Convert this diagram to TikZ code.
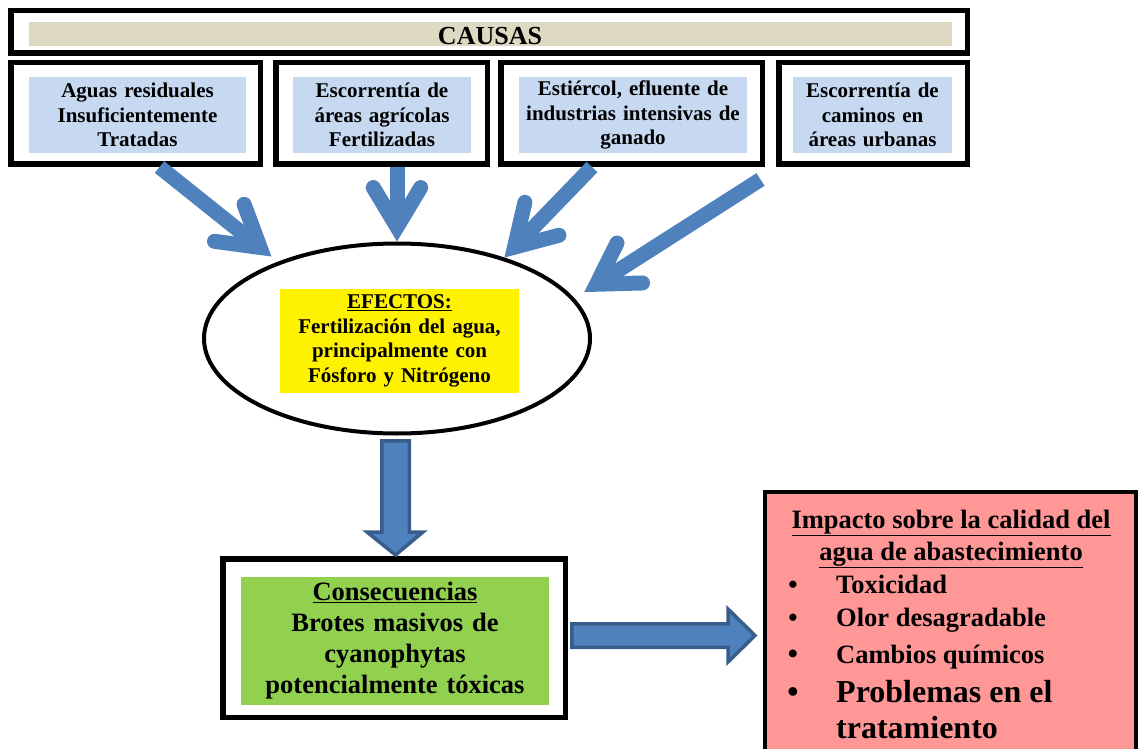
\documentclass[tikz,border=0pt]{standalone}
\usepackage{fontspec}
\setmainfont{Liberation Serif}
\usetikzlibrary{calc,shapes.geometric}

\definecolor{causeblue}{HTML}{C6D9F1}
\definecolor{causetan}{HTML}{DDD9C3}
\definecolor{arrowblue}{HTML}{4F81BD}
\definecolor{arrowedge}{HTML}{385D8A}
\definecolor{consgreen}{HTML}{92D050}
\definecolor{impactpink}{HTML}{FF9797}

\tikzset{
  frame/.style={draw, line width=5.5pt, fill=white, inner sep=0pt},
  fillbox/.style={inner sep=0pt, align=center},
  smalltext/.style={font=\fontsize{21}{24.5}\selectfont\bfseries},
  bigtext/.style={font=\fontsize{26.5}{31}\selectfont\bfseries},
  causeline/.style={draw=arrowblue, line width=15pt},
  causehead/.style={draw=arrowblue, line width=15pt, line cap=round, line join=miter, miter limit=10},
  blockarrow/.style={draw=arrowedge, fill=arrowblue, line width=3.5pt, line join=miter},
}

% thick blue arrow with an open head: start, tip
\newcommand{\causearrow}[2]{%
  \coordinate (v) at ($(#2)!14.5pt!(#1)$);
  \draw[causeline] (#1) -- (v);
  \draw[causehead] ($(v)!46pt!31:(#1)$) -- (v) -- ($(v)!46pt!-31:(#1)$);
}

\begin{document}
\begin{tikzpicture}[x=1pt, y=-1pt]
  \useasboundingbox (0,0) rectangle (1138,749);

  % causes
  \node[frame, minimum width=956.5pt, minimum height=42.5pt] (top) at (489,32) {};
  \node[fill=causetan, inner sep=0pt, minimum width=923pt, minimum height=24pt] (bar) at (490.5,34) {};
  \node[anchor=base, inner sep=0pt, font=\fontsize{26}{30}\selectfont\bfseries] (causas) at (490,45) {CAUSAS};

  \node[frame, minimum width=249.5pt, minimum height=101.5pt] (c1) at (135.5,113.5) {};
  \node[frame, minimum width=211.5pt, minimum height=101.5pt] (c2) at (381.5,113.5) {};
  \node[frame, minimum width=261.5pt, minimum height=101.5pt] (c3) at (631.5,113.5) {};
  \node[frame, minimum width=188.5pt, minimum height=101.5pt] (c4) at (873,113.5) {};

  \node[fillbox, smalltext, fill=causeblue, text width=217pt, minimum height=76pt] (t1) at (137.5,115)
    {Aguas residuales\\Insuficientemente\\Tratadas};
  \node[fillbox, smalltext, fill=causeblue, text width=178pt, minimum height=76pt] (t2) at (382,115)
    {Escorrentía de\\áreas agrícolas\\Fertilizadas};
  \node[fillbox, smalltext, fill=causeblue, text width=228pt, minimum height=76pt] (t3) at (633,115)
    {Estiércol, efluente de\\industrias intensivas de\\ganado};
  \node[fillbox, smalltext, fill=causeblue, text width=159pt, minimum height=76pt] (t4) at (872.5,115)
    {Escorrentía de\\caminos en\\áreas urbanas};

  % effects
  \node[ellipse, draw, line width=4pt, inner sep=0pt, minimum width=386pt, minimum height=190pt] (eff) at (397,338.5) {};
  \node[fillbox, smalltext, fill=yellow, text width=239pt, minimum height=104pt] (efftxt) at (399.5,341)
    {\underline{EFECTOS:}\\Fertilización del agua,\\principalmente con\\Fósforo y Nitrógeno};

  \coordinate (s1) at ([xshift=24pt]c1.south);
  \coordinate (e1) at ([shift={(-7pt,5pt)}]eff.147);
  \coordinate (s2) at ([xshift=15.5pt]c2.south);
  \coordinate (e2) at (eff.north);
  \coordinate (s3) at ([xshift=-39.5pt]c3.south);
  \coordinate (e3) at (eff.37.5);
  \coordinate (s4) at ([shift={(-15.5pt,-12.5pt)}]c4.south west);
  \coordinate (e4) at ([shift={(13pt,3pt)}]eff.14);
  \causearrow{s1}{e1}
  \causearrow{s2}{e2}
  \causearrow{s3}{e3}
  \causearrow{s4}{e4}

  % consequences
  \node[frame, minimum width=342.5pt, minimum height=158.5pt] (cons) at (394,638) {};
  \node[fillbox, bigtext, fill=consgreen, text width=308pt, minimum height=128pt] (constxt) at (395,641)
    {\underline{Consecuencias}\\Brotes masivos de\\cyanophytas\\potencialmente tóxicas};

  \draw[blockarrow] (381.75,440.75) -- (409.25,440.75) -- (409.25,532) -- (423,532)
    -- (395.5,555) -- (367,532) -- (381.75,532) -- cycle;

  % impact
  \node[draw, line width=4pt, fill=impactpink, inner sep=0pt, minimum width=371pt, minimum height=290pt] (imp) at (950.5,637) {};
  \node[fillbox, bigtext, anchor=base] (head1) at (951,528) {\underline{Impacto sobre la calidad del}};
  \node[fillbox, bigtext, anchor=base] (head2) at (951,560) {\underline{agua de abastecimiento}};
  \node[inner sep=0pt, bigtext, anchor=base] (b1) at (793,593) {•};
  \node[inner sep=0pt, bigtext, anchor=base west] (i1) at (836,593) {Toxicidad};
  \node[inner sep=0pt, bigtext, anchor=base] (b2) at (793,626) {•};
  \node[inner sep=0pt, bigtext, anchor=base west] (i2) at (836,626) {Olor desagradable};
  \node[inner sep=0pt, font=\fontsize{29}{33}\selectfont\bfseries, anchor=base] (b3) at (793,663) {•};
  \node[inner sep=0pt, bigtext, anchor=base west] (i3) at (836,663) {Cambios químicos};
  \node[inner sep=0pt, font=\fontsize{32}{36}\selectfont\bfseries, anchor=base] (b4) at (793,702) {•};
  \node[inner sep=0pt, font=\fontsize{32}{36}\selectfont\bfseries, anchor=base west] (i4) at (836,702) {Problemas en el};
  \node[inner sep=0pt, font=\fontsize{32}{36}\selectfont\bfseries, anchor=base west] (i5) at (836,738) {tratamiento};

  \draw[blockarrow] (571.75,623.75) -- (728,623.75) -- (728,609) -- (755,635.5)
    -- (728,662) -- (728,647.25) -- (571.75,647.25) -- cycle;
\end{tikzpicture}
\end{document}
